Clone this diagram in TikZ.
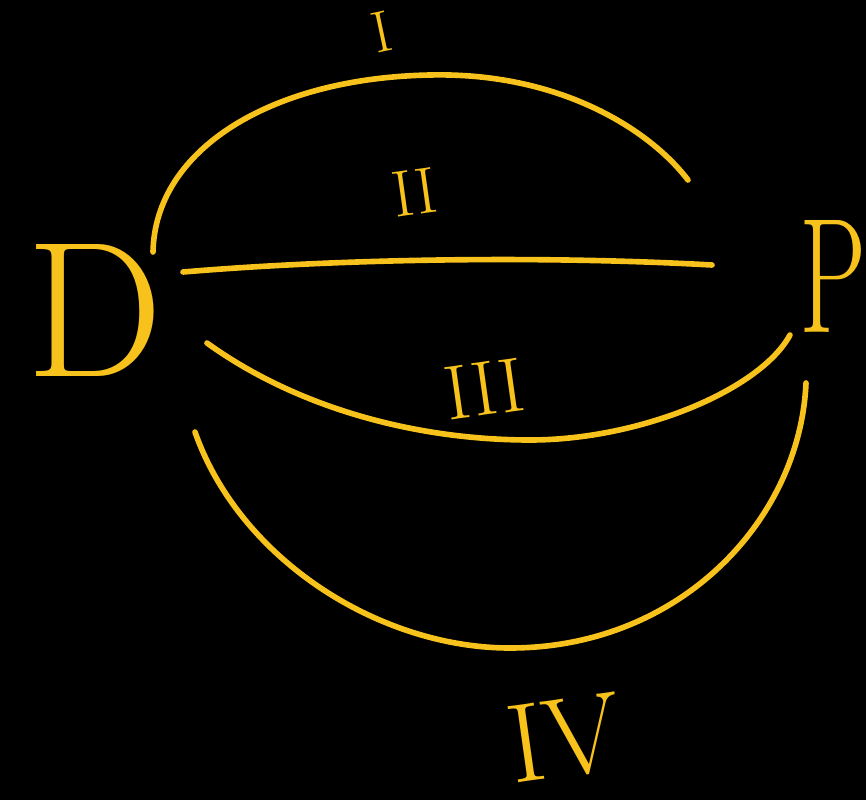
\documentclass[tikz,border=0pt]{standalone}
\usepackage{fontspec}
\definecolor{chalk}{RGB}{248,194,28}

\begin{document}
\begin{tikzpicture}[x=0.3mm, y=-0.3mm,
    strand/.style={draw=chalk, line width=4.8pt, line cap=round},
    numeral/.style={text=chalk, inner sep=0pt}]
    \useasboundingbox (0,0) rectangle (866,800);
    \fill[black] (0,0) rectangle (866,800);

    \node[numeral, font=\fontsize{165}{165}\selectfont] (D) at (95,310) {D};
    \node[numeral, font=\fontsize{140}{140}\selectfont, xscale=0.65] (P) at (833,276) {P};

    \coordinate (I1) at (153,252);  \coordinate (I2) at (688,180);
    \coordinate (II1) at (183,272); \coordinate (II2) at (712,265);
    \coordinate (III1) at (207,343); \coordinate (III2) at (790,335);
    \coordinate (IV1) at (195,432); \coordinate (IV2) at (806,383);

    \draw[strand] (I1) .. controls (155,150) and (270,78) .. (430,75) .. controls (560,72) and (650,130) .. (I2);
    \draw[strand] (II1) .. controls (350,258) and (550,256) .. (II2);
    \draw[strand] (III1) .. controls (300,410) and (420,440) .. (530,440) .. controls (640,440) and (760,390) .. (III2);
    \draw[strand] (IV1) .. controls (240,560) and (380,648) .. (510,648) .. controls (680,648) and (800,520) .. (IV2);

    \node[numeral, font=\fontsize{50}{50}\selectfont, rotate=12] (lI) at (382,32) {I};
    \node[numeral, font=\fontsize{56}{56}\selectfont, rotate=8] (lII) at (415,192) {II};
    \node[numeral, font=\fontsize{66}{66}\selectfont, rotate=8] (lIII) at (484,389) {III};
    \node[numeral, font=\fontsize{96}{96}\selectfont, rotate=8] (lIV) at (565,738) {IV};
\end{tikzpicture}
\end{document}
